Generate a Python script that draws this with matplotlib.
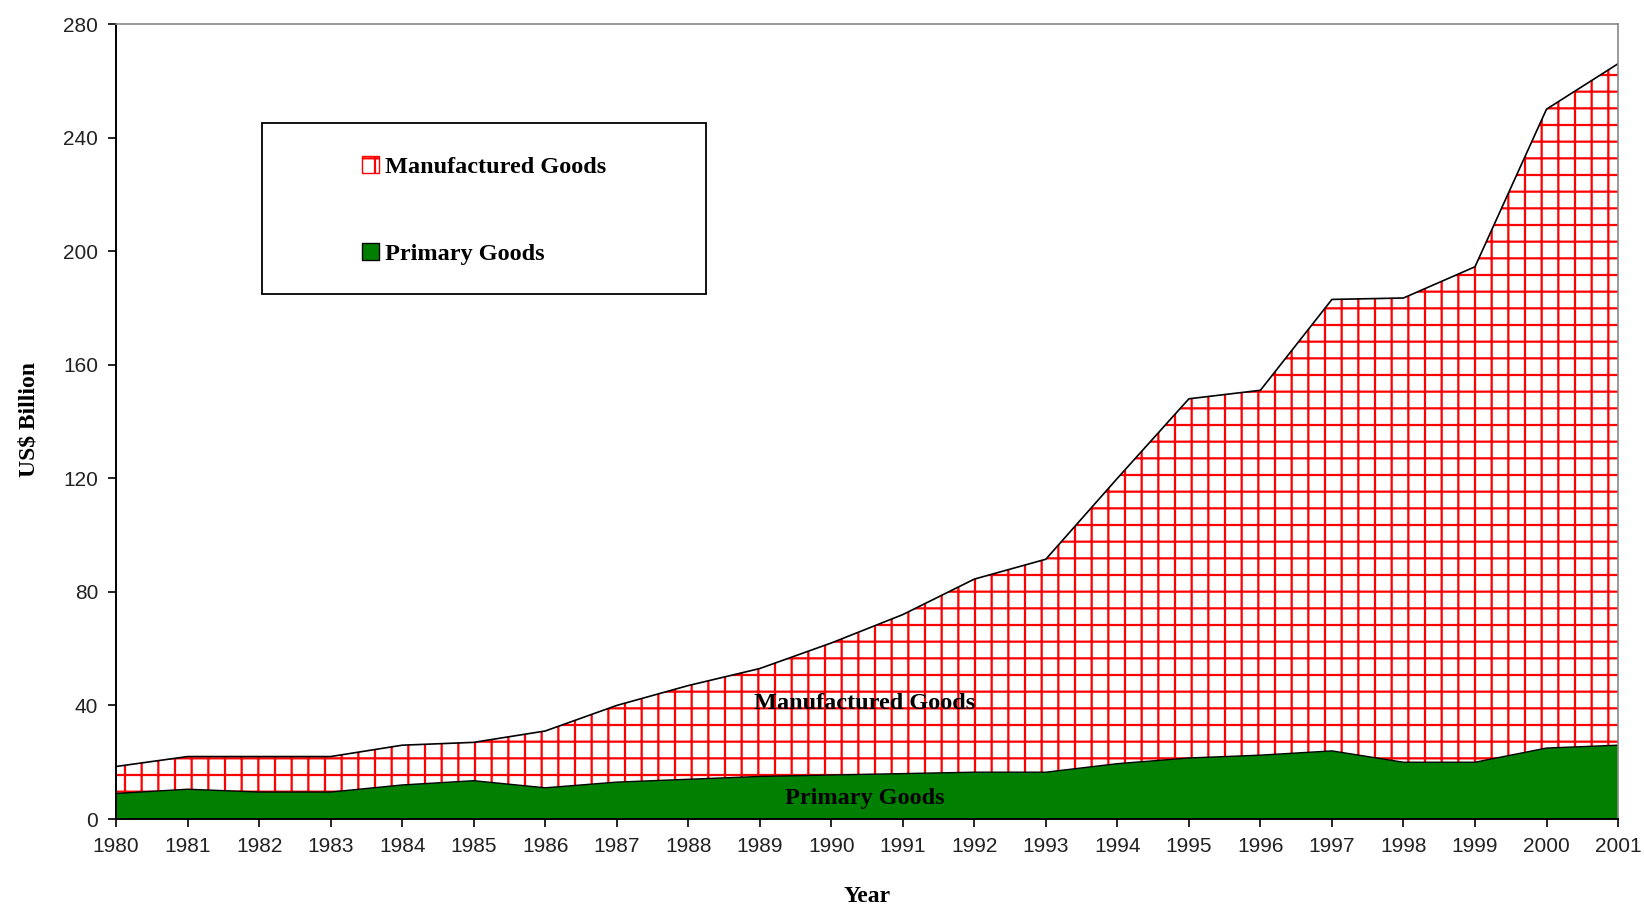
import matplotlib
matplotlib.use("Agg")
import matplotlib.pyplot as plt
from matplotlib.patches import Rectangle

years = list(range(1980, 2002))
primary = [9, 10.5, 9.5, 9.5, 12, 13.5, 11, 13, 14, 15, 15.5, 16, 16.5, 16.5,
           19.5, 21.5, 22.5, 24, 20, 20, 25, 26]
total = [18.5, 22, 22, 22, 26, 27, 31, 40, 47, 53, 62, 72, 84.5, 91.5,
         120, 148, 151, 183, 183.5, 194.5, 250, 266]
manufactured = [t - p for t, p in zip(total, primary)]
top = [p + m for p, m in zip(primary, manufactured)]

plt.rcParams['hatch.linewidth'] = 1.6
serif = 'Liberation Serif'
sans = 'Liberation Sans'

fig = plt.figure(figsize=(16.44, 9.06), dpi=100)
ax = fig.add_axes([0.0706, 0.096, 0.9136, 0.8775])

ax.fill_between(years, 0, primary, facecolor='#007f00', edgecolor='none',
                label='Primary Goods')
ax.fill_between(years, primary, top, facecolor='white', edgecolor='red',
                hatch='+', linewidth=0, label='Manufactured Goods')
ax.plot(years, primary, color='black', lw=1)
ax.plot(years, top, color='black', lw=1.2)

ax.set_xlim(1980, 2001)
ax.set_ylim(0, 280)
ax.set_xticks(years)
ax.set_yticks(range(0, 281, 40))
ax.tick_params(direction='out', length=6, width=1.2, color='black',
               labelsize=15, pad=7)
for lab in ax.get_xticklabels() + ax.get_yticklabels():
    lab.set_fontfamily(sans)
    lab.set_color('#222222')
for s in ['left', 'bottom']:
    ax.spines[s].set_color('black')
    ax.spines[s].set_linewidth(1.4)
for s in ['top', 'right']:
    ax.spines[s].set_color('#888888')
    ax.spines[s].set_linewidth(1.2)

ax.set_ylabel('US$ Billion', fontfamily=serif, fontweight='bold', fontsize=17)
ax.set_xlabel('Year', fontfamily=serif, fontweight='bold', fontsize=17)
ax.yaxis.set_label_coords(-0.058, 0.503)
ax.xaxis.set_label_coords(0.5, -0.097)
ax.yaxis.label.set_va('center')
ax.xaxis.label.set_va('center')

ax.text(1990.47, 40.6, 'Manufactured Goods', ha='center', va='center',
        fontfamily=serif, fontweight='bold', fontsize=17.5)
ax.text(1990.47, 7.4, 'Primary Goods', ha='center', va='center',
        fontfamily=serif, fontweight='bold', fontsize=17.5)

ax.add_patch(Rectangle((0.0972, 0.660), 0.2956, 0.2155, transform=ax.transAxes,
                       facecolor='white', edgecolor='black', lw=1.3, zorder=5))
handles, labels = ax.get_legend_handles_labels()
leg = ax.legend(handles[::-1], labels[::-1], loc='upper left',
                bbox_to_anchor=(0.1635, 0.834), frameon=False,
                prop={'family': serif, 'weight': 'bold', 'size': 17.5},
                handlelength=0.7, handleheight=0.7, handletextpad=0.25,
                labelspacing=2.68, borderpad=0, borderaxespad=0)
leg.set_zorder(6)
hs = leg.legend_handles
hs[0].set_edgecolor('red')
hs[0].set_linewidth(1)
hs[1].set_edgecolor('black')
hs[1].set_linewidth(1)

fig.savefig('out.png', dpi=100)
